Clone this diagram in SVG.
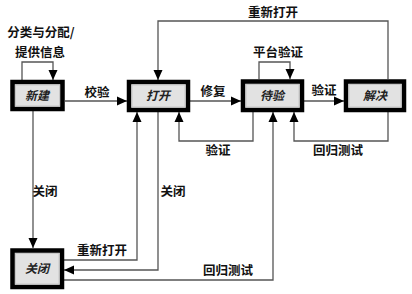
<svg xmlns="http://www.w3.org/2000/svg" width="412" height="294" viewBox="0 0 412 294">
<style>
.box{fill:#e2e2e2;stroke:#000;stroke-width:4.5}
.inner{fill:none;stroke:#c8c8c8;stroke-width:1}
.nt{font-family:"Noto Sans CJK SC",sans-serif;font-size:12px;font-style:italic;font-weight:bold;fill:#222;text-anchor:middle}
.lb{font-family:"Noto Sans CJK SC",sans-serif;font-size:12.5px;font-weight:bold;fill:#111;text-anchor:middle}
.ln{fill:none;stroke:#555;stroke-width:1.3}
</style>
<defs>
<marker id="ah" markerUnits="userSpaceOnUse" markerWidth="10" markerHeight="10" viewBox="0 0 10 10" refX="10" refY="5" orient="auto">
<path d="M0,0.5 L10,5 L0,9.5 Z" fill="#000"/>
</marker>
</defs>
<rect width="412" height="294" fill="#fff"/>
<g id="connectors">
<path class="ln" d="M22,80 V62 H53 V80" marker-end="url(#ah)"/>
<path class="ln" d="M65,101 H127" marker-end="url(#ah)"/>
<path class="ln" d="M190,101 H241" marker-end="url(#ah)"/>
<path class="ln" d="M304,101 H344" marker-end="url(#ah)"/>
<path class="ln" d="M259,79 V62 H290 V79" marker-end="url(#ah)"/>
<path class="ln" d="M388,79 V21 H158 V80" marker-end="url(#ah)"/>
<path class="ln" d="M253,112 V141 H179 V112" marker-end="url(#ah)"/>
<path class="ln" d="M388,112 V141 H294 V112" marker-end="url(#ah)"/>
<path class="ln" d="M33,111 V248" marker-end="url(#ah)"/>
<path class="ln" d="M64,260 H137 V112" marker-end="url(#ah)"/>
<path class="ln" d="M158,112 V270 H64" marker-end="url(#ah)"/>
<path class="ln" d="M64,280 H273 V112" marker-end="url(#ah)"/>
<text class="lb" x="41" y="37">分类与分配/</text>
<text class="lb" x="40" y="57">提供信息</text>
<text class="lb" x="97" y="97">校验</text>
<text class="lb" x="213" y="96">修复</text>
<text class="lb" x="324" y="95">验证</text>
<text class="lb" x="278" y="57">平台验证</text>
<text class="lb" x="273" y="17">重新打开</text>
<text class="lb" x="218" y="155">验证</text>
<text class="lb" x="338" y="155">回归测试</text>
<text class="lb" x="45" y="196">关闭</text>
<text class="lb" x="173" y="196">关闭</text>
<text class="lb" x="102" y="255">重新打开</text>
<text class="lb" x="228" y="275">回归测试</text>
</g>
<g id="node-new">
<rect class="box" x="12.5" y="82" width="50" height="27"/>
<rect class="inner" x="15.5" y="85" width="44" height="21"/>
<text class="nt" x="37" y="100">新建</text>
</g>
<g id="node-open">
<rect class="box" x="129" y="82" width="59" height="28"/>
<rect class="inner" x="132" y="85" width="53" height="22"/>
<text class="nt" x="158" y="100">打开</text>
</g>
<g id="node-pending">
<rect class="box" x="243" y="81.5" width="59" height="28.5"/>
<rect class="inner" x="246" y="84.5" width="53" height="22.5"/>
<text class="nt" x="272" y="100">待验</text>
</g>
<g id="node-resolved">
<rect class="box" x="346" y="81.5" width="58" height="28.5"/>
<rect class="inner" x="349" y="84.5" width="52" height="22.5"/>
<text class="nt" x="375" y="100">解决</text>
</g>
<g id="node-closed">
<rect class="box" x="12.5" y="250.5" width="49.5" height="36.5"/>
<rect class="inner" x="15.5" y="253.5" width="43.5" height="30.5"/>
<text class="nt" x="37" y="273">关闭</text>
</g>
</svg>
